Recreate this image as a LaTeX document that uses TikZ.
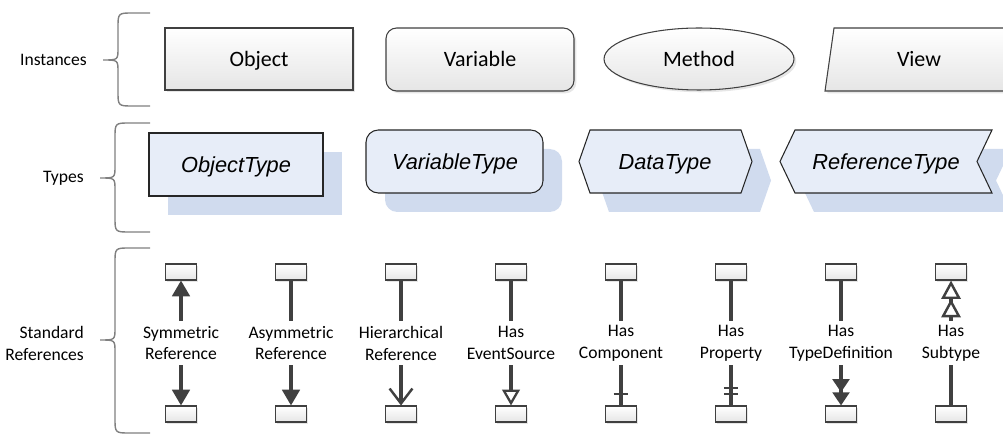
\documentclass[tikz,border=0pt]{standalone}
\usepackage{fontspec}
\setmainfont{Carlito}
\newfontfamily\typefont{Liberation Sans}
\usetikzlibrary{arrows.meta,shapes.geometric,shadows}

\definecolor{edgegray}{HTML}{404040}
\definecolor{bracegray}{HTML}{808080}
\definecolor{typefill}{HTML}{E7EDF8}
\definecolor{typeshade}{HTML}{D0DBEE}

\tikzset{
  instlabel/.style={font=\fontsize{12.5}{15}\selectfont, inner sep=0pt, text height=8pt, text depth=0pt},
  inst/.style={instlabel, draw=edgegray, line width=0.6pt, top color=white, bottom color=black!10,
    drop shadow={shadow xshift=1.3pt, shadow yshift=-1.3pt, opacity=0.2}},
  typebox/.style={draw=black!85, line width=0.6pt, fill=typefill},
  typeshadow/.style={fill=typeshade},
  typelabel/.style={font=\typefont\itshape\fontsize{12.4}{15}\selectfont,
    inner sep=0pt, text height=8.9pt, text depth=0pt},
  smallbox/.style={draw=edgegray, line width=0.6pt, top color=white, bottom color=black!10,
    minimum width=0.62cm, minimum height=0.32cm, inner sep=0pt,
    drop shadow={shadow xshift=1pt, shadow yshift=-1pt, opacity=0.2}},
  reflabel/.style={align=center, font=\fontsize{10}{12.5}\selectfont, minimum height=0.88cm, inner sep=0pt},
  refline/.style={draw=edgegray, line width=1.8pt},
  groupbrace/.style={draw=bracegray, line width=0.8pt},
  grouplabel/.style={align=right, anchor=east, font=\fontsize{10}{12.5}\selectfont},
}

\begin{document}
\begin{tikzpicture}[x=0.02cm, y=-0.02cm]
  \useasboundingbox (0,0) rectangle (1003,435);
  \clip (0,0) rectangle (1003,435);
  %% group braces
  \foreach \ya/\ym/\yb/\xv in {13/60/106/118, 123/178/232/115, 248/340/433/115}
    \draw[groupbrace] (150,\ya) -- (\xv+15,\ya) .. controls (\xv,\ya) .. (\xv,\ya+15)
      -- (\xv,\ym-12) .. controls (\xv,\ym) .. (\xv-15,\ym) .. controls (\xv,\ym) .. (\xv,\ym+12)
      -- (\xv,\yb-15) .. controls (\xv,\yb) .. (\xv+15,\yb) -- (150,\yb);
  \node[grouplabel] (instances) at (93,60) {Instances};
  \node[grouplabel] (types) at (90,178) {Types};
  \node[grouplabel] (stdrefs) at (90,343) {Standard\\References};

  %% instances
  \node[inst, minimum width=3.76cm, minimum height=1.24cm] (object) at (259,59) {Object};
  \node[inst, rounded corners=6pt, minimum width=3.76cm, minimum height=1.26cm] (variable) at (480,59.5) {Variable};
  \node[inst, ellipse, minimum width=3.8cm, minimum height=1.24cm] (method) at (699,59) {Method};
  \draw[inst] (834,28) -- (1004,28) -- (1013,91) -- (825,91) -- cycle;
  \node[instlabel] (view) at (919,59.5) {View};

  %% types (shadows first)
  \foreach \s/\sty in {19/typeshadow, 0/typebox} {
    \begin{scope}[shift={(\s,\s)}]
      \path[\sty] (149,133) rectangle (323,196);
      \path[\sty, rounded corners=7pt] (366,130) rectangle (543,193);
      \path[\sty] (579,161.5) -- (590,130) -- (741,130) -- (752,161.5) -- (741,193) -- (590,193) -- cycle;
      \path[\sty] (780,161.5) -- (795,130) -- (992,130) -- (977,161.5) -- (992,193) -- (795,193) -- cycle;
    \end{scope}
  }
  \node[typelabel] (objecttype) at (236,164.5) {ObjectType};
  \node[typelabel] (variabletype) at (455,161.5) {VariableType};
  \node[typelabel] (datatype) at (665,161.5) {DataType};
  \node[typelabel] (referencetype) at (886,161.5) {ReferenceType};

  %% standard references
  \foreach \x/\name [count=\i] in {181/{Symmetric\\Reference}, 291/{Asymmetric\\Reference},
      401/{Hierarchical\\Reference}, 511/{Has\\EventSource}, 621/{Has\\Component},
      731/{Has\\Property}, 841/{Has\\TypeDefinition}, 951/{Has\\Subtype}} {
    \node[smallbox] (top\i) at (\x,272) {};
    \node[smallbox] (bot\i) at (\x,414) {};
    \node[reflabel] (ref\i) at (\x,343) {\name};
  }
  \draw[refline, {Triangle[length=9pt,width=10pt]}-] (top1) -- (ref1);
  \foreach \i in {2,...,7}
    \draw[refline] (top\i) -- (ref\i);
  \draw[refline, {Triangle[length=10.5pt,width=11pt,fill=white,line width=1.4pt,sep=0pt]
    Triangle[length=10.5pt,width=11pt,fill=white,line width=1.4pt,sep=0pt]}-] (top8) -- (ref8);

  \draw[refline, -{Triangle[length=9pt,width=10pt]}] (ref1) -- (bot1);
  \draw[refline, -{Triangle[length=9pt,width=10pt]}] (ref2) -- (bot2);
  \draw[refline, -{Straight Barb[length=8.5pt,width=13pt,line width=1.4pt]}] (ref3) -- (bot3);
  \draw[refline, -{Triangle[length=9pt,width=10pt,fill=white,line width=1.3pt]}] (ref4) -- (bot4);
  \draw[refline] (ref5) -- (bot5);
  \draw[refline, line width=1.5pt] ([yshift=6.5pt]bot5.north) ++(-4.2pt,0) -- ++(8.4pt,0);
  \draw[refline] (ref6) -- (bot6);
  \draw[refline, line width=1.5pt] ([yshift=6.5pt]bot6.north) ++(-4pt,0) -- ++(8pt,0);
  \draw[refline, line width=1.5pt] ([yshift=9.9pt]bot6.north) ++(-4pt,0) -- ++(8pt,0);
  \draw[refline, -{Triangle[length=7.5pt,width=9.5pt,sep=0pt] Triangle[length=7.5pt,width=9.5pt,sep=0pt]}] (ref7) -- (bot7);
  \draw[refline] (ref8) -- (bot8);
\end{tikzpicture}
\end{document}
